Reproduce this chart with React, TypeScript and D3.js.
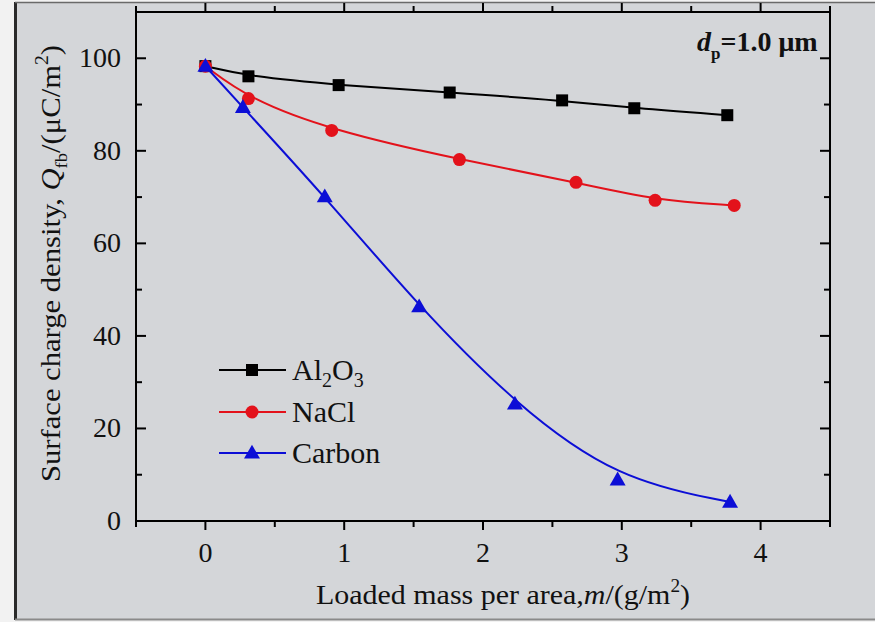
import React from "react";
import * as d3 from "d3";

const W = 875;
const H = 622;

const alX = [0, 0.31, 0.96, 1.76, 2.57, 3.09, 3.76];
const alY = [98.3, 96.1, 94.2, 92.6, 90.9, 89.2, 87.7];
const naX = [0, 0.31, 0.91, 1.83, 2.67, 3.24, 3.81];
const naY = [98.3, 91.3, 84.4, 78.1, 73.2, 69.3, 68.2];
const cX = [0, 0.27, 0.86, 1.54, 2.23, 2.97, 3.78];
const cY = [98.3, 89.4, 70.1, 46.3, 25.3, 8.9, 4.1];

const xTicks = [0, 1, 2, 3, 4];
const xMinor = [-0.5, 0.5, 1.5, 2.5, 3.5, 4.5];
const yTicks = [0, 20, 40, 60, 80, 100];
const yMinor = [10, 30, 50, 70, 90, 110];

const seriesNames = ["Al2O3", "NaCl", "Carbon"];

const L = 136, R = 830, T = 12, B = 521;
const FONT = "'Liberation Serif', 'Times New Roman', serif";

export default function App() {
  const x = d3.scaleLinear().domain([-0.5, 4.5]).range([L, R]);
  const y = d3.scaleLinear().domain([0, 110]).range([B, T]);

  const series = [
    { name: seriesNames[0], xs: alX, ys: alY, color: "#000000", shape: "square" },
    { name: seriesNames[1], xs: naX, ys: naY, color: "#e3121b", shape: "circle" },
    { name: seriesNames[2], xs: cX, ys: cY, color: "#0c0ed6", shape: "triangle" },
  ];

  const line = d3
    .line<[number, number]>()
    .x((d) => x(d[0]))
    .y((d) => y(d[1]))
    .curve(d3.curveBasis);

  const marker = (shape: string, cx: number, cy: number, color: string, key: any) => {
    if (shape === "square")
      return <rect key={key} x={cx - 6} y={cy - 6} width={12} height={12} fill={color} />;
    if (shape === "circle") return <circle key={key} cx={cx} cy={cy} r={6.5} fill={color} />;
    const s = d3.symbol().type(d3.symbolTriangle).size(110)();
    return <path key={key} d={s || ""} transform={`translate(${cx},${cy + 1})`} fill={color} />;
  };

  const fs = 28;
  const legendY = [370, 412, 453];

  return (
    <svg
      width={W}
      height={H}
      style={{ position: "absolute", left: 0, top: 0 }}
      fontFamily={FONT}
    >
      <rect x={0} y={0} width={W} height={H} fill="#f2f2f2" />
      <rect x={16} y={3} width={W - 16} height={616} fill="#d4d6d9" />
      <line x1={15.5} y1={2} x2={15.5} y2={620} stroke="#2a2a2a" strokeWidth={3} />
      <line x1={15} y1={2.5} x2={W} y2={2.5} stroke="#6a6a6a" strokeWidth={1.5} />
      <line x1={15} y1={619.5} x2={W} y2={619.5} stroke="#8a8a8a" strokeWidth={2} />

      {/* frame */}
      <rect x={L} y={T} width={R - L} height={B - T} fill="none" stroke="#000" strokeWidth={2} />

      {/* bottom & top ticks (outward) */}
      {xTicks.map((t) => (
        <g key={"xt" + t}>
          <line x1={x(t)} x2={x(t)} y1={B} y2={B + 9} stroke="#000" strokeWidth={2} />
          <line x1={x(t)} x2={x(t)} y1={T} y2={T - 9} stroke="#000" strokeWidth={2} />
          <text x={x(t)} y={B + 41} textAnchor="middle" fontSize={fs} fill="#111">
            {t}
          </text>
        </g>
      ))}
      {xMinor.map((t) => (
        <g key={"xm" + t}>
          <line x1={x(t)} x2={x(t)} y1={B} y2={B + 6} stroke="#000" strokeWidth={2} />
          <line x1={x(t)} x2={x(t)} y1={T} y2={T - 6} stroke="#000" strokeWidth={2} />
        </g>
      ))}
      {/* left & right ticks (inward) */}
      {yTicks.map((t) => (
        <g key={"yt" + t}>
          <line x1={L} x2={L + 10} y1={y(t)} y2={y(t)} stroke="#000" strokeWidth={2} />
          <line x1={R} x2={R - 10} y1={y(t)} y2={y(t)} stroke="#000" strokeWidth={2} />
          <text x={L - 15} y={y(t) + 9} textAnchor="end" fontSize={fs} fill="#111">
            {t}
          </text>
        </g>
      ))}
      {yMinor.map((t) => (
        <g key={"ym" + t}>
          <line x1={L} x2={L + 6} y1={y(t)} y2={y(t)} stroke="#000" strokeWidth={2} />
          <line x1={R} x2={R - 6} y1={y(t)} y2={y(t)} stroke="#000" strokeWidth={2} />
        </g>
      ))}

      {/* series */}
      {series.map((s) => {
        const pts = s.xs.map((v, i) => [v, s.ys[i]] as [number, number]);
        return (
          <g key={s.name}>
            <path d={line(pts) || ""} fill="none" stroke={s.color} strokeWidth={2} />
            {pts.map((p, i) => marker(s.shape, x(p[0]), y(p[1]), s.color, i))}
          </g>
        );
      })}

      {/* legend */}
      {series.map((s, i) => (
        <g key={"lg" + i}>
          <line x1={219} x2={286} y1={legendY[i]} y2={legendY[i]} stroke={s.color} strokeWidth={2} />
          {marker(s.shape, 252, legendY[i], s.color, "m")}
        </g>
      ))}
      <text x={292} y={legendY[0] + 10} fontSize={30} fill="#111">
        Al<tspan fontSize={20} dy={7}>2</tspan>
        <tspan dy={-7}>O</tspan>
        <tspan fontSize={20} dy={7}>3</tspan>
      </text>
      <text x={292} y={legendY[1] + 10} fontSize={30} fill="#111">NaCl</text>
      <text x={292} y={legendY[2] + 10} fontSize={30} fill="#111">Carbon</text>

      {/* annotation */}
      <text x={697} y={51} fontSize={28} fontWeight="bold" fill="#111">
        <tspan fontStyle="italic">d</tspan>
        <tspan fontSize={17} dy={8}>p</tspan>
        <tspan dy={-8}>=1.0 μm</tspan>
      </text>

      {/* axis titles */}
      <text x={316} y={604} fontSize={28} fill="#111" textLength={374} lengthAdjust="spacingAndGlyphs">
        Loaded mass per area,<tspan fontStyle="italic">m</tspan>/(g/m
        <tspan fontSize={18} dy={-12}>2</tspan>
        <tspan dy={12}>)</tspan>
      </text>
      <text
        transform={`translate(60,482) rotate(-90)`}
        fontSize={28}
        fill="#111"
        textLength={437}
        lengthAdjust="spacingAndGlyphs"
      >
        Surface charge density, <tspan fontStyle="italic">Q</tspan>
        <tspan fontSize={17} dy={7}>fb</tspan>
        <tspan dy={-7}>/(μC/m</tspan>
        <tspan fontSize={18} dy={-12}>2</tspan>
        <tspan dy={12}>)</tspan>
      </text>
    </svg>
  );
}
